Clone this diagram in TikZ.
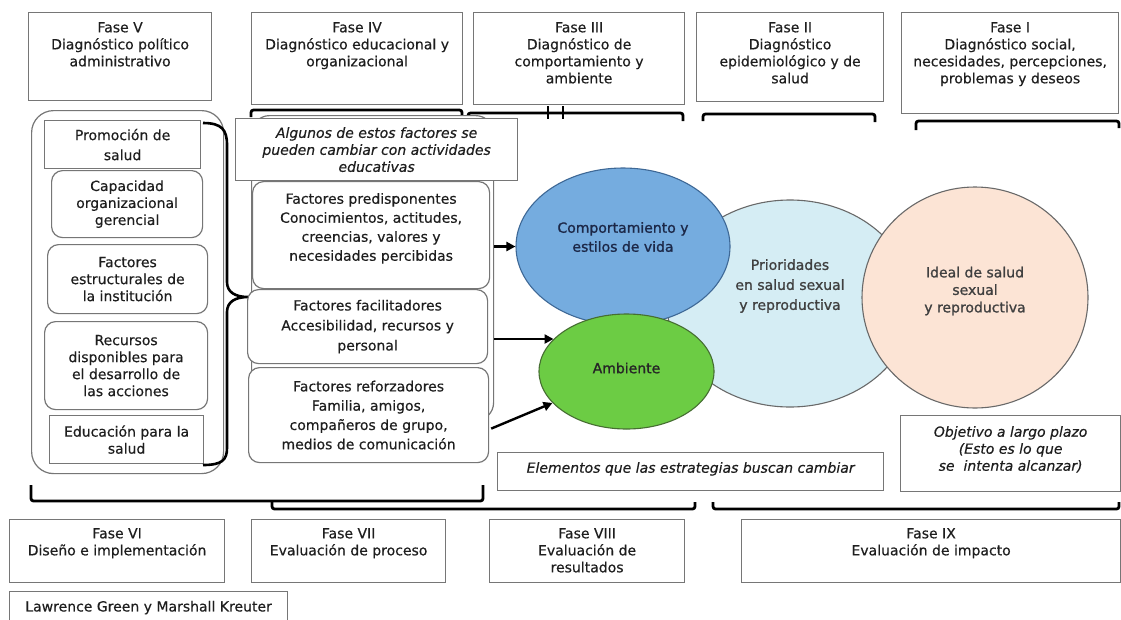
\documentclass[tikz,border=0pt]{standalone}
\usepackage{fontspec}
\setmainfont{DejaVu Sans}[FakeBold=0.4]
\newfontfamily\semib{DejaVu Sans}[FakeBold=1.1]
\usetikzlibrary{shapes.geometric,arrows.meta}
\definecolor{bord}{RGB}{118,118,118}
\definecolor{txt}{RGB}{30,30,30}
\definecolor{bluefill}{RGB}{117,172,223}
\definecolor{blueline}{RGB}{62,104,150}
\definecolor{bluetxt}{RGB}{28,40,72}
\definecolor{greenfill}{RGB}{108,204,68}
\definecolor{greenline}{RGB}{70,110,50}
\definecolor{cyanfill}{RGB}{213,237,244}
\definecolor{peachfill}{RGB}{252,228,213}
\definecolor{eline}{RGB}{105,105,105}
\newcommand\mybox[7]{\node[#1,anchor=north west,minimum width={#5pt-#3pt},minimum height={#6pt-#4pt},align=center] (#2) at (#3,#4) {#7};}
\newcommand\mytbox[8]{\node[#1,anchor=north west] (#2) at (#3,#4) {\parbox[c][\dimexpr#6pt-#4pt\relax][t]{\dimexpr#5pt-#3pt\relax}{\centering\vspace*{#7pt}#8\par}};}
\begin{document}
\begin{tikzpicture}[x=1pt,y=-1pt,font=\fontsize{14}{17}\selectfont,text=txt,
  box/.style={draw=bord,line width=1.2pt,fill=white,inner sep=0pt},
  rbox/.style={box,rounded corners=11pt},
  brk/.style={line width=2.8pt,rounded corners=2.5pt},
  bracestyle/.style={line width=2.6pt},
  arr/.style={line width=2.4pt,-{Triangle[length=9pt,width=9pt]}},
  ell/.style={ellipse,inner sep=0pt,line width=1.1pt},
  etext/.style={align=center,inner sep=0pt},
  it/.style={font=\fontsize{14}{17}\selectfont\itshape}]
\useasboundingbox (0,0) rectangle (1121,619);
\clip (0,0) rectangle (1121,619);
\fill[white] (0,0) rectangle (1121,619);

% top row
\mytbox{box}{f5}{28}{12}{211}{100}{9.5}{Fase V\\Diagnóstico político\\administrativo}
\mytbox{box}{f4}{251}{12}{462}{104}{9.5}{Fase IV\\Diagnóstico educacional y\\organizacional}
\mytbox{box}{f3}{473}{12}{684}{104}{9.5}{Fase III\\Diagnóstico de\\comportamiento y\\ambiente}
\mytbox{box}{f2}{696}{12}{883}{101}{9.5}{Fase II\\Diagnóstico\\epidemiológico y de\\salud}
\mytbox{box}{f1}{901}{12}{1118}{113}{9.5}{Fase I\\Diagnóstico social,\\necesidades, percepciones,\\problemas y deseos}

% top brackets
\draw[brk] (251,117) -- (251,110) -- (462,110) -- (462,118);
\draw[brk] (468,118) -- (468,113) -- (683,113) -- (683,121);
\draw[line width=2pt] (548,106) -- (548,119) (563,106) -- (563,119);
\draw[brk] (703,121) -- (703,114) -- (875,114) -- (875,122);
\draw[brk] (916,130) -- (916,121) -- (1119,121) -- (1119,128);

% left column
\mybox{rbox,rounded corners=22pt}{lgrp}{31}{110}{223}{473}{}
\mybox{box}{promo}{44}{120}{200}{168}{Promoción de\\[3pt]salud}
\mybox{rbox}{capa}{51}{170}{202}{237}{Capacidad\\organizacional\\gerencial}
\mybox{rbox}{estr}{47}{244}{207}{313}{Factores\\estructurales de\\la institución}
\mybox{rbox}{recu}{44}{321}{207}{409}{Recursos\\disponibles para\\el desarrollo de\\las acciones}
\mybox{box}{educ}{49}{415}{203}{463}{Educación para la\\salud}
\draw[bracestyle] (203,123) .. controls (222,123) and (227,130) .. (227,145) -- (227,282)
  .. controls (227,292) and (235,297) .. (248,297)
  .. controls (235,297) and (227,302) .. (227,312) -- (227,448)
  .. controls (227,460) and (222,465) .. (203,465);

% middle column
\mybox{rbox,rounded corners=18pt}{grp}{251}{115}{493}{420}{}
\mybox{box,it}{alg}{235}{118}{517}{180}{Algunos de estos factores se\\pueden cambiar con actividades\\educativas}
\mytbox{rbox,font=\fontsize{14}{19}\selectfont}{pred}{252}{181}{489}{288}{11.5}{Factores predisponentes\\Conocimientos, actitudes,\\creencias, valores y\\necesidades percibidas}
\mybox{rbox,font=\fontsize{14}{20}\selectfont}{faci}{247}{289}{487}{363}{Factores facilitadores\\Accesibilidad, recursos y\\personal}
\mybox{rbox,font=\fontsize{14}{19.3}\selectfont}{refo}{248}{367}{488}{462}{Factores reforzadores\\Familia, amigos,\\compañeros de grupo,\\medios de comunicación}

% ellipses
\node[ell,fill=cyanfill,draw=eline,minimum width=246pt,minimum height=207pt] (prio) at (790,303.5) {};
\node[ell,fill=peachfill,draw=eline,minimum width=226pt,minimum height=221pt] (ideal) at (975,297.5) {};
\node[ell,fill=bluefill,draw=blueline,minimum width=214pt,minimum height=157pt] (comp) at (623,246.5) {};
\node[ell,fill=greenfill,draw=greenline,minimum width=175pt,minimum height=115pt] (amb) at (626.5,371.5) {};
\node[etext,font=\fontsize{14}{19}\selectfont\semib,text=bluetxt] (compt) at (623,237) {Comportamiento y\\estilos de vida};
\node[etext,font=\fontsize{14}{17}\selectfont\semib,text=black!85] (ambt) at (626.5,368) {Ambiente};
\node[etext,font=\fontsize{14}{20}\selectfont\semib,text=black!75] (priot) at (790,286) {Prioridades\\en salud sexual\\y reproductiva};
\node[etext,font=\fontsize{14}{17.5}\selectfont\semib,text=black!75] (idealt) at (975,291) {Ideal de salud\\sexual\\y reproductiva};

% arrows
\draw[arr] (grp.east |- comp.west) -- (comp.west);
\draw[arr] (grp.east |- amb.156) -- (amb.156);
\draw[arr] ([xshift=2pt,yshift=-13.5pt]refo.east) -- (amb.203);

% lower notes
\mytbox{box,it}{elem}{497}{452}{883}{490}{9.5}{Elementos que las estrategias buscan cambiar}
\mytbox{box,it}{obj}{900}{415}{1120}{491}{10.5}{Objetivo a largo plazo\\(Esto es lo que\\se\ \ intenta alcanzar)}

% bottom brackets
\draw[brk] (31,485) -- (31,501) -- (483,501) -- (483,485);
\draw[brk] (272,501) -- (272,509) -- (695,509) -- (695,502);
\draw[brk] (713,502) -- (713,509) -- (1119,509) -- (1119,502);

% bottom row
\mytbox{box}{f6}{9}{519}{224}{582}{8.5}{Fase VI\\Diseño e implementación}
\mytbox{box}{f7}{251}{519}{445}{582}{8.5}{Fase VII\\Evaluación de proceso}
\mytbox{box}{f8}{489}{519}{684}{582}{8.5}{Fase VIII\\Evaluación de\\resultados}
\mytbox{box}{f9}{741}{519}{1120}{582}{8.5}{Fase IX\\Evaluación de impacto}
\mybox{box}{law}{9}{591}{287}{623}{Lawrence Green y Marshall Kreuter}
\end{tikzpicture}
\end{document}
